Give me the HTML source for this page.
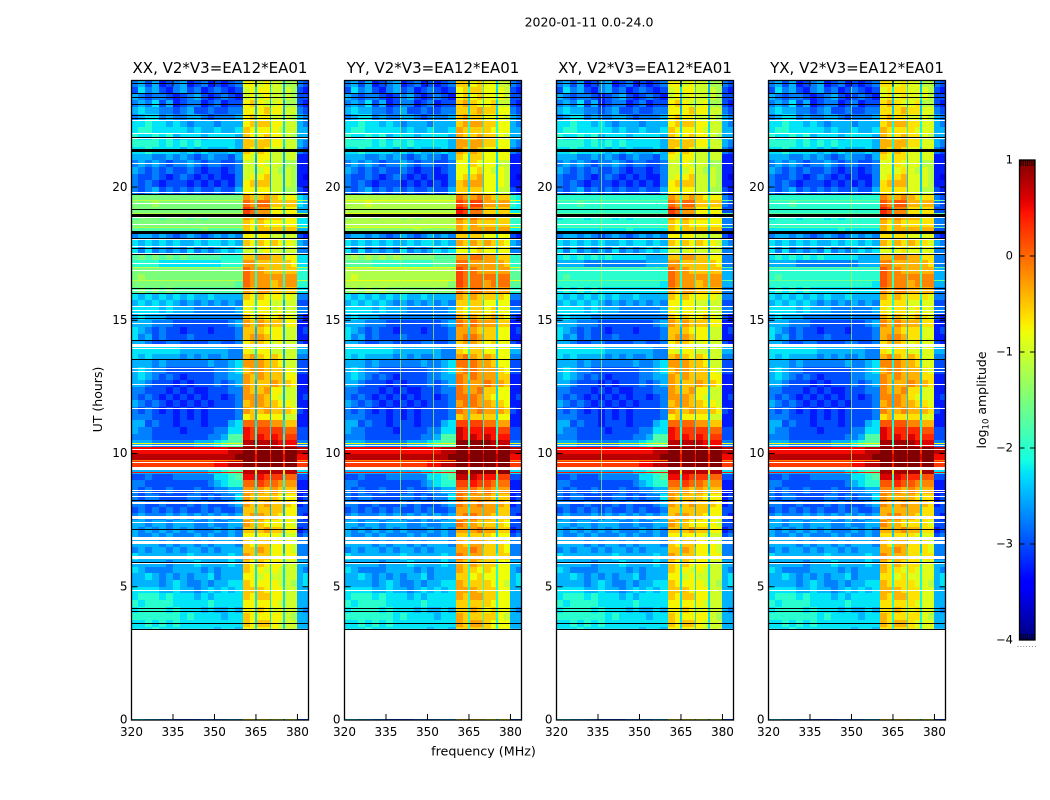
<!DOCTYPE html>
<html lang="en">
<head>
<meta charset="utf-8">
<title>2020-01-11 spectrograms</title>
<style>
html,body{margin:0;padding:0;background:#fff;width:1050px;height:800px;overflow:hidden}
svg{display:block}
text{font-family:"DejaVu Sans","Liberation Sans",sans-serif;fill:#000}
</style>
</head>
<body>
<svg id="figure" xmlns="http://www.w3.org/2000/svg" width="1050" height="800" viewBox="0 0 1050 800">
  <rect x="0" y="0" width="1050" height="800" fill="#fff"/>
  <text x="589" y="26.5" font-size="12.5" text-anchor="middle">2020-01-11 0.0-24.0</text>
  <text x="483.5" y="755.5" font-size="12.7" text-anchor="middle">frequency (MHz)</text>
  <text x="0" y="0" font-size="12.5" text-anchor="middle" transform="translate(102,399.5) rotate(-90)">UT (hours)</text>
  <text x="0" y="0" font-size="12.5" text-anchor="middle" transform="translate(986,400) rotate(-90)">log<tspan font-size="8.5" dy="2.5">10</tspan><tspan dy="-2.5"> amplitude</tspan></text>
  <defs><linearGradient id="jetGradient" x1="0" y1="1" x2="0" y2="0"></linearGradient></defs>
  <g id="panels"></g>
  <g id="colorbar"></g>
</svg>
<script>
/* ---------- chart data (log10 amplitude codes) ---------- */
const panelNames = ["XX", "YY", "XY", "YX"];
const baselineName = "V2*V3=EA12*EA01";
const xTicks = [320, 335, 350, 365, 380];
const yTicks = [0, 5, 10, 15, 20];
const colorbarTicks = [1, 0, -1, -2, -3, -4];

/* channel edges in MHz: 16 quiet columns, 11 in the bright band, 2 above it */
const freqEdgesMHz = [320, 322.5, 325, 327.5, 330, 332.5, 335, 337.5, 340, 342.5, 345, 347.5, 350, 352.5, 355, 357.5, 360.4,
  362.7, 364.8, 365.5, 367.8, 369.9, 370.6, 372.8, 374.8, 375.5, 377.7, 380, 382, 384];

/* one row per quarter hour from 24 UT downward; each character is a level code */
const levelCodes = "0123456789abcdefghijk";
const amplitudeRows = [
"5646345634534345 dd6cd6cc6bb 54",
"4756435645345434 cd7dd7cc6cb 43",
"6545543456434543 cd6cd6cc7cb 44",
"5657463455345344 de6dc6cd6bb 43",
"6766554564454455 dd6de7dd6cc 54",
"5677565566545556 de7dd6cc6cb 65",
"7787767656665666 de7ee7dd7cc 65",
"7887777767667667 ed7dd7dc7cc 66",
"8778786777677776 ed7de7dd7cb 66",
"8888787878777776 ee7ee7dd7cc 65",
"7787777676766676 ed7ed7cc6cc 54",
"6665565654565546 dc6dd6cc6cc 33",
"5656545565455445 cc6dc6cc6bb 33",
"6545454454344345 cc6cd6cb6cb 33",
"5445434543434335 cd6de6cc6cb 32",
"5454344434343435 de6ee6cc6cb 33",
"5456454545445446 dd6dd6cc6bb 43",
"aaaaaaaaaaaaaaaa fe8ef8ed8dd 76",
"aaabaaaaaaaaaaaa gf8gg8ee8ee 76",
"aaaaaaaaaaaaaaaa hg7ff7dd7dd 66",
"9aaa9aaa9a9aaaaa fe8fe8ee8dd 77",
"aaaaaaaaaaaaaaaa ed8ed8dd8dd 77",
"9999999999a99999 ed7ee7ee7ee 66",
"5665654565456565 dd6dd6cc6cc 43",
"7676767667677676 ed7ed7ed7dc 65",
"7575656575656767 cc6cd7cc6cc 55",
"9a9a9a9a99999888 ee7ff7ee7dd 77",
"8888777777777888 ff8ee8ee8ed 77",
"aaaaaaaaaaaaaaaa gf8fe8ee8ee 88",
"abaaaaaaaaaaaaaa gf8ff8ff8ff 88",
"aaaaaaaaaaaaaaa9 gf8ff8ef8ff 88",
"9a9a9a9999999999 fe8ff8ee8ee 77",
"7676767676676666 ed7ed7dd7dc 55",
"6767676565656565 dd7dd6cc6cc 44",
"7777676665555556 dc7dd6cd6cc 55",
"6766655555555555 ed6ed6de6dc 43",
"6665554444444456 fe7fe6ee6dd 33",
"7654544344434445 ee6ed6dd6cc 34",
"7564544454444445 ef6fe6dd6cc 33",
"6654455444455445 de6ed6cd6cc 43",
"7777777666666655 dc7dd6cc6cc 66",
"7676666565655655 ef7ed6ed6cc 55",
"6665655555565567 ff7fe7ed6cc 44",
"6765544444445567 ef7fe6ee6dc 44",
"6765454344445566 fe7fe6ee6dd 33",
"6654443434445456 fe6ee6fe6ed 33",
"5544434343344455 fe6ef6dd6cc 33",
"5454343434344345 ff6fe6dc6cc 34",
"6545434343434445 ef6fe6ed6dc 33",
"5454343434344445 fe6ef6ee6ed 43",
"5554443434344445 de6dd6dd6cc 33",
"6645443444344467 gg7gg7ff7ee 33",
"6554444344445577 ih8hh7hh7gg 44",
"5554444444455699 ih8ih8ih8hh 44",
"6665555556667899 jj8jj8ji8ii 55",
"iiiiiiiiiiiiiijj kkhkkhkkhkk jj",
"jjjjjjjjjjjjjjjk kkikkikkikk ii",
"hhhhhhhhhhhhiijj kkhkkhkkhkk hh",
"6666666666677899 jjdjjdjjdjj 77",
"4454445555557789 ii8ih8hh8gg 44",
"5544444444456788 gg8hg8gf8ff 33",
"5454454445445566 ff7fe7fe7ee 33",
"5455444455454557 fe7ee7ed6dd 34",
"5544544454544456 fe6ef6ee6ed 34",
"4545454544545445 ee7ee6ee6dd 44",
"5655565656565656 ef7fe6ed6dd 43",
"6656656665565566 fe7ed6dd6dc 44",
"6565656565556565 ee6ef7ee6dd 34",
"6556565556565565 dd6dd6dc6cc 45",
"6666565665656665 ed7ee6dd6dc 55",
"5656656566565666 ee7fe7dd6dc 55",
"7666666676666676 fe7ee7dd7dd 55",
"6666656667666676 ed7ed7dd7cc 66",
"7655556666565666 ed7dc7dc7cc 65",
"6676565656675666 dd7cd7cc7cc 67",
"6666567655656677 ed7dd7dc7cb 67",
"7777667665676767 ee7ed7dd7cc 66",
"7888787776767777 ed7ee7dd7cc 66",
"8788887777787777 dd7dd7dc7cc 66",
"7888878777676676 dd7ed7cd7cc 65",
"8888888787777677 ed7dd7dd7cb 66",
"7787878777777777 ed7ee7dc7cc 66",
"7778777777776776 dd7dd7dc7cc 66"
];
const baselineRow = "7766554444555566 dd6dd6cc6cc 44";

/* per-polarisation level differences */
const quietOffset = [0, 0, 0, 0];
const brightOffset = [0, 0.2, 0, 0.1];
const bandOffset = [0, 0.3, -0.5, -0.5];

/* strong wideband intervals, UT hours */
const strongBandStartUT = [18.3, 16.0];
const strongBandEndUT = [19.7, 17.5];

/* thin horizontal stripes seen in the quiet columns */
const stripeUT = [10.38, 9.75, 9.3, 19.5, 19.02, 18.5, 17.0, 16.5];
const stripeLevel = [-0.8, -0.1, 0.45, -1.1, -1.15, -1.15, -1.1, -1.1];

/* flagged integrations */
const blackFlagUT = [23.88, 23.51, 23.36, 23.10, 22.69, 22.57, 21.86, 19.72, 19.16, 18.07, 17.70, 17.47, 16.20, 16.01, 15.19, 15.06, 14.25, 13.54, 8.25, 7.16, 5.92, 4.19, 4.07, 3.64];
const blackThickUT = [21.37, 18.94, 18.30];
const whiteFlagUT = [22.50, 22.01, 21.82, 20.89, 19.80, 19.39, 18.86, 18.60, 18.04, 17.78, 17.51, 17.14, 16.87, 16.12, 15.52, 15.37, 15.26, 14.89, 13.95, 13.20, 13.09, 12.60, 11.70, 10.31, 10.16, 9.67, 8.62, 8.55, 8.40, 8.14, 7.42, 6.71, 6.64, 5.89, 4.87];
const whiteThickUT = [14.06, 9.45, 7.61, 6.82, 6.11];

/* narrow interference channels per polarisation */
const interferenceMHz = [[], [340, 352], [336], [350]];

/* ---------- layout and axis functions ---------- */
const panelLeft = [131.5, 344.5, 556.5, 768.5];
const panelWidth = 177;
const plotTop = 80.5, plotBottom = 720;
const maxUT = 24, firstDataUT = 3.42, rowHours = 0.25;
const minMHz = 320, maxMHz = 384;
const cbLeft = 1019.5, cbRight = 1035, cbTop = 160, cbBottom = 640;

function xScale(mhz, p) { return panelLeft[p] + (mhz - minMHz) / (maxMHz - minMHz) * panelWidth; }
function yScale(ut) { return plotBottom - ut / maxUT * (plotBottom - plotTop); }
function cbScale(v) { return cbBottom - (v + 4) / 5 * (cbBottom - cbTop); }

function ramp(t, pts) {
  for (let i = 1; i < pts.length; i++) {
    if (t <= pts[i][0]) {
      const a = pts[i - 1], b = pts[i];
      return a[1] + (b[1] - a[1]) * (t - a[0]) / (b[0] - a[0]);
    }
  }
  return pts[pts.length - 1][1];
}
function jet(t) {
  t = Math.max(0, Math.min(1, t));
  const r = ramp(t, [[0, 0], [.35, 0], [.66, 1], [.89, 1], [1, .5]]);
  const g = ramp(t, [[0, 0], [.125, 0], [.375, 1], [.64, 1], [.91, 0], [1, 0]]);
  const b = ramp(t, [[0, .5], [.11, 1], [.34, 1], [.65, 0], [1, 0]]);
  return "rgb(" + Math.round(r * 255) + "," + Math.round(g * 255) + "," + Math.round(b * 255) + ")";
}
function colorFor(level) { return jet((level + 4) / 5); }
function codeToLevel(ch) { return -4 + levelCodes.indexOf(ch) * 0.25; }
function inStrongBand(ut) {
  return strongBandStartUT.some((s, i) => ut > s && ut <= strongBandEndUT[i]);
}
function adjustLevel(level, col, ut, p) {
  if (col >= 16 && col < 27) return level + brightOffset[p];
  return level + quietOffset[p] + (inStrongBand(ut) ? bandOffset[p] : 0);
}

const NS = "http://www.w3.org/2000/svg";
function add(parent, tag, attrs) {
  const el = document.createElementNS(NS, tag);
  for (const k in attrs) el.setAttribute(k, attrs[k]);
  parent.appendChild(el);
  return el;
}
function band(parent, p, utHigh, utLow, fill) {
  const y0 = Math.round(yScale(utHigh)), y1 = Math.max(Math.round(yScale(utLow)), y0 + 1);
  const x0 = Math.round(panelLeft[p]);
  return add(parent, "rect", { x: x0, y: y0, width: Math.round(panelLeft[p] + panelWidth) - x0, height: y1 - y0, fill: fill, "shape-rendering": "crispEdges" });
}

/* ---------- panels ---------- */
const panelsRoot = document.getElementById("panels");
panelNames.forEach(function (name, p) {
  const g = add(panelsRoot, "g", {});
  
  

  const cells = add(g, "g", {});
  
  

  function drawRow(codes, utTop, utBottom) {
    const cols = codes.replace(/ /g, "");
    const utMid = (utTop + utBottom) / 2;
    for (let c = 0; c < cols.length; c++) {
      const x0 = Math.round(xScale(freqEdgesMHz[c], p));
      const x1 = Math.round(xScale(freqEdgesMHz[c + 1], p));
      const y0 = Math.round(yScale(utTop));
      const y1 = Math.max(Math.round(yScale(utBottom)), y0 + 1);
      const cell = add(cells, "rect", { x: x0, y: y0, width: x1 - x0, height: y1 - y0, "shape-rendering": "crispEdges",
        fill: colorFor(adjustLevel(codeToLevel(cols[c]), c, utMid, p)) });
      
      
    }
  }
  amplitudeRows.forEach(function (row, i) {
    const utTop = maxUT - i * rowHours;
    drawRow(row, utTop, Math.max(firstDataUT, utTop - rowHours));
  });
  drawRow(baselineRow, 0.04, 0);

  /* stripes cover the quiet columns and the columns above the band */
  stripeUT.forEach(function (ut, i) {
    [[0, 16], [27, 29]].forEach(function (span) {
      const x0 = Math.round(xScale(freqEdgesMHz[span[0]], p));
      const x1 = Math.round(xScale(freqEdgesMHz[span[1]], p));
      const st = add(g, "rect", { x: x0, y: Math.round(yScale(ut)), width: x1 - x0, height: 1, "shape-rendering": "crispEdges",
        fill: colorFor(adjustLevel(stripeLevel[i], span[0], ut, p)) });
      
      
    });
  });

  interferenceMHz[p].forEach(function (mhz) {
    const ln = add(g, "rect", { x: Math.round(xScale(mhz, p)), y: Math.round(yScale(maxUT)), width: 1, height: Math.round(yScale(7.5) - yScale(maxUT)),
      fill: colorFor(-1.2), opacity: 0.7, "shape-rendering": "crispEdges" });
    
    
  });

  whiteFlagUT.forEach(function (ut) {
    const f = band(g, p, ut + 0.025, ut - 0.025, "#fff");
    
    
  });
  whiteThickUT.forEach(function (ut) {
    const f = band(g, p, ut + 0.05, ut - 0.05, "#fff");
    
    
  });
  blackFlagUT.forEach(function (ut) {
    const f = band(g, p, ut + 0.018, ut - 0.018, "#000");
    
    
  });
  blackThickUT.forEach(function (ut) {
    const f = band(g, p, ut + 0.05, ut - 0.05, "#000");
    
    
  });

  /* white area below first data row */
  const blank = add(g, "rect", { x: panelLeft[p], y: yScale(firstDataUT), width: panelWidth, height: yScale(0.04) - yScale(firstDataUT), fill: "#fff" });
  
  
  const firstLine = band(g, p, firstDataUT, firstDataUT - 0.04, "#000");
  
  

  /* ticks */
  xTicks.forEach(function (t) {
    const x = xScale(t, p);
    const b = add(g, "line", { x1: x, x2: x, y1: plotBottom, y2: plotBottom - 6, stroke: "#000", "stroke-width": 1 });
    
    
    const u = add(g, "line", { x1: x, x2: x, y1: plotTop, y2: plotTop + 6, stroke: "#000", "stroke-width": 1 });
    
    
    const lab = add(g, "text", { x: x, y: 736, "font-size": 12, "text-anchor": "middle" });
    lab.textContent = String(t);
    
    
  });
  yTicks.forEach(function (t) {
    const y = yScale(t);
    const l = add(g, "line", { x1: panelLeft[p], x2: panelLeft[p] + 6, y1: y, y2: y, stroke: "#000", "stroke-width": 1 });
    
    
    const r = add(g, "line", { x1: panelLeft[p] + panelWidth, x2: panelLeft[p] + panelWidth - 6, y1: y, y2: y, stroke: "#000", "stroke-width": 1 });
    
    
    const lab = add(g, "text", { x: panelLeft[p] - 4, y: y + 3.7, "font-size": 12, "text-anchor": "end" });
    lab.textContent = String(t);
    
    
  });

  const frame = add(g, "rect", { x: panelLeft[p], y: plotTop, width: panelWidth, height: plotBottom - plotTop, fill: "none", stroke: "#000", "stroke-width": 1.3 });
  
  

  const title = add(g, "text", { x: panelLeft[p] + panelWidth / 2, y: 73, "font-size": 15, "text-anchor": "middle" });
  title.textContent = name + ", " + baselineName;
  
  
});

/* ---------- colorbar ---------- */
const grad = document.getElementById("jetGradient");
for (let i = 0; i <= 64; i++) {
  add(grad, "stop", { offset: i / 64, "stop-color": jet(i / 64) });
}
const cb = document.getElementById("colorbar");
const cbFill = add(cb, "rect", { x: cbLeft, y: cbTop, width: cbRight - cbLeft, height: cbBottom - cbTop, fill: "url(#jetGradient)", stroke: "#000", "stroke-width": 1.3 });


colorbarTicks.forEach(function (v) {
  const y = cbScale(v);
  const a = add(cb, "line", { x1: cbLeft, x2: cbLeft + 5, y1: y, y2: y, stroke: "#000", "stroke-width": 1 });
  
  
  const b = add(cb, "line", { x1: cbRight, x2: cbRight - 5, y1: y, y2: y, stroke: "#000", "stroke-width": 1 });
  
  
  const lab = add(cb, "text", { x: 1013, y: y + 3.4, "font-size": 11.5, "text-anchor": "end" });
  lab.textContent = v < 0 ? "\u2212" + Math.abs(v) : String(v);
  
  
});
for (let i = 0; i < 7; i++) {
  const x = cbLeft + 1.5 + i * 2.2;
  const t = add(cb, "line", { x1: x, x2: x, y1: cbTop, y2: cbTop + 6, stroke: "#000", "stroke-width": 0.8 });
  
  
  const u = add(cb, "line", { x1: x, x2: x, y1: cbBottom, y2: cbBottom - 6, stroke: "#000", "stroke-width": 0.8 });
  
  
  const d = add(cb, "rect", { x: 1017.5 + i * 2.9, y: 646, width: 1, height: 1, fill: "#888" });
  
  
}
</script>
</body>
</html>
